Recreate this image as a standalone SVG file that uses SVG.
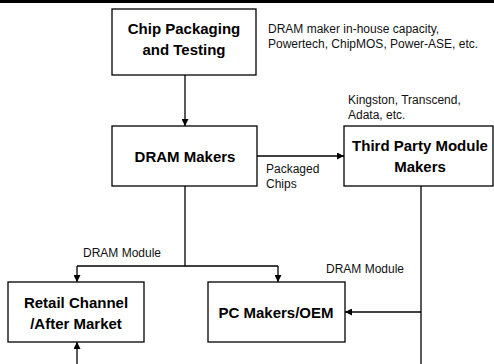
<svg xmlns="http://www.w3.org/2000/svg" width="494" height="364" viewBox="0 0 494 364">
  <defs>
    <marker id="arrow" viewBox="0 0 10 10" refX="10" refY="5" markerWidth="7" markerHeight="7" markerUnits="userSpaceOnUse" orient="auto">
      <path d="M0,0 L10,5 L0,10 Z" fill="#000"/>
    </marker>
    <style>
      .box { fill: #fff; stroke: #000; stroke-width: 1.3; }
      .title { font-family: "Liberation Sans", Arial, sans-serif; font-weight: bold; font-size: 15px; fill: #000; text-anchor: middle; }
      .note { font-family: "Liberation Sans", Arial, sans-serif; font-size: 12px; fill: #111; }
      .link { fill: none; stroke: #000; stroke-width: 1.3; }
      .link-end { fill: none; stroke: #000; stroke-width: 1.3; marker-end: url(#arrow); }
    </style>
  </defs>

  <!-- page rule along the top edge -->
  <rect x="0" y="0" width="494" height="3" fill="#000"/>

  <!-- connectors -->
  <g id="connectors">
    <path class="link-end" d="M185,75 V126"/>
    <path class="link-end" d="M257,156 H344"/>
    <path class="link" d="M185,186 V266 M77,266 H278"/>
    <path class="link-end" d="M77,266 V282"/>
    <path class="link-end" d="M278,266 V282"/>
    <path class="link" d="M421,186 V364"/>
    <path class="link-end" d="M421,312 H345"/>
    <path class="link-end" d="M77,364 V342"/>
  </g>

  <!-- connector labels -->
  <g id="labels">
    <text class="note" x="266" y="173">Packaged</text>
    <text class="note" x="266" y="188">Chips</text>
    <text class="note" x="83" y="257">DRAM Module</text>
    <text class="note" x="326" y="273">DRAM Module</text>
    <text class="note" x="268" y="33">DRAM maker in-house capacity,</text>
    <text class="note" x="268" y="48">Powertech, ChipMOS, Power-ASE, etc.</text>
    <text class="note" x="348" y="104">Kingston, Transcend,</text>
    <text class="note" x="348" y="119">Adata, etc.</text>
  </g>

  <g id="chip-packaging">
    <rect class="box" x="112" y="9" width="144" height="66"/>
    <text class="title" x="184" y="34">Chip Packaging</text>
    <text class="title" x="184" y="55">and Testing</text>
  </g>

  <g id="dram-makers">
    <rect class="box" x="112" y="126" width="145" height="60"/>
    <text class="title" x="185" y="162">DRAM Makers</text>
  </g>

  <g id="third-party">
    <rect class="box" x="344" y="126" width="149" height="60"/>
    <text class="title" x="420" y="151">Third Party Module</text>
    <text class="title" x="420" y="172">Makers</text>
  </g>

  <g id="retail-channel">
    <rect class="box" x="8" y="282" width="136" height="60"/>
    <text class="title" x="76" y="308">Retail Channel</text>
    <text class="title" x="76" y="329">/After Market</text>
  </g>

  <g id="pc-makers">
    <rect class="box" x="208" y="282" width="137" height="60"/>
    <text class="title" x="276" y="318">PC Makers/OEM</text>
  </g>
</svg>
